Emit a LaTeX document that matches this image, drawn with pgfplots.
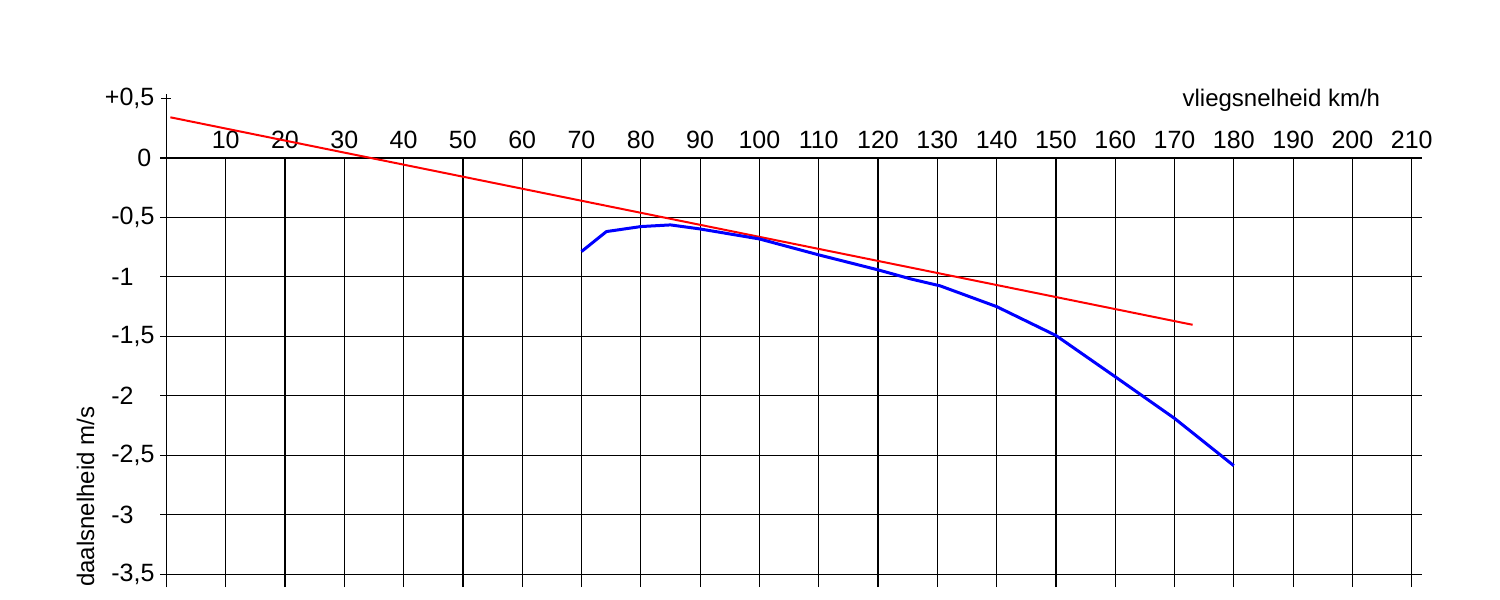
\documentclass[border=0pt]{standalone}
\usepackage{pgfplots}
\pgfplotsset{compat=1.18}
\usepackage{fontspec}
\setmainfont{Liberation Sans}
\newcommand{\lab}[1]{\makebox[21pt][l]{#1}}
\begin{document}
\begin{tikzpicture}
\useasboundingbox (-83.2pt,-6.4pt) rectangle (666.8pt,293.6pt);
\begin{axis}[
  at={(0pt,0pt)}, anchor=south west,
  x=2.965pt, y=59.45pt,
  xmin=0, xmax=211.8, ymin=-3.61, ymax=0,
  axis x line*=top, axis y line*=left,
  axis line style={black, line width=0.6pt},
  xtick={10,20,...,210},
  ytick={-3.5,-3,...,0},
  yticklabels={\lab{-3,5},\lab{-3},\lab{-2,5},\lab{-2},\lab{-1,5},\lab{-1},\lab{-0,5},\lab{\hspace{13pt}0}},
  grid=major, major grid style={black, line width=0.6pt},
  x tick style={draw=none},
  y tick style={black, line width=0.6pt},
  tick align=outside, major tick length=3pt,
  every tick label/.append style={font=\fontsize{12.5}{14}\selectfont},
  xticklabel style={yshift=-1.8pt},
  /pgf/number format/assume math mode=true,
  label style={font=\fontsize{12}{14}\selectfont, inner sep=0pt},
  xlabel={vliegsnelheid km/h},
  xlabel style={at={(axis description cs:0.8088,1.1188)}, anchor=base west},
  ylabel={daalsnelheid m/s},
  ylabel style={at={(axis description cs:-0.0576,0)}, anchor=base west},
]
\end{axis}
\begin{axis}[
  at={(0pt,0pt)}, anchor=south west,
  x=2.965pt, y=59.45pt,
  xmin=0, xmax=211.8, ymin=-3.61, ymax=0.538,
  axis x line=none, axis y line*=left,
  axis line style={black, line width=0.6pt},
  ytick={0.5}, yticklabels={\mbox{+0,5}},
  y tick style={black, line width=0.6pt},
  tick align=center, major tick length=5pt,
  every tick label/.append style={font=\fontsize{12.5}{14}\selectfont},
  clip=false,
]
\addplot[red, line width=1pt] coordinates {(0.67,0.342) (173.05,-1.403)};
\addplot[blue, line width=1.5pt, line join=round] coordinates {
(70,-0.787) (74.2,-0.619) (80,-0.577) (85,-0.563) (90,-0.597) (100,-0.681)
(110,-0.815) (120,-0.941) (125.5,-1.017) (130.5,-1.076) (140,-1.25)
(150,-1.493) (160,-1.84) (170,-2.19) (180,-2.588)};
\end{axis}
\end{tikzpicture}
\end{document}
